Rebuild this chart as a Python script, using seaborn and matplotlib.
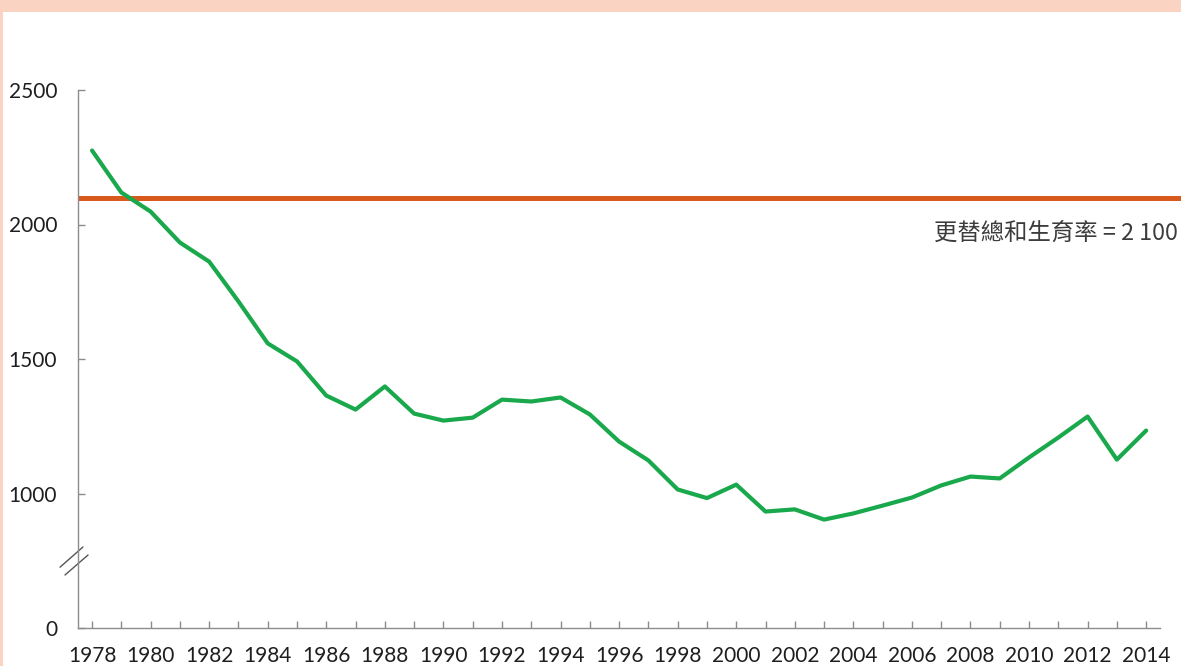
import matplotlib
matplotlib.use("Agg")
import matplotlib.pyplot as plt
import seaborn as sns
import pandas as pd
from matplotlib.patches import Rectangle

# Data
years = list(range(1978, 2015))
fertility = [2275, 2119, 2048, 1933, 1862, 1714, 1558, 1491, 1364, 1312,
             1398, 1297, 1271, 1282, 1349, 1342, 1357, 1294, 1193, 1123,
             1015, 983, 1033, 933, 941, 903, 926, 955, 985, 1030,
             1063, 1056, 1134, 1208, 1286, 1126, 1234]
replacement_rate = 2100
ytick_values = [500, 1000, 1500, 2000, 2500]
ytick_labels = ["0", "1000", "1500", "2000", "2500"]
label_years = list(range(1978, 2015, 2))
annotation = "更替總和生育率 = 2 100"

sns.set_style("white")
plt.rcParams['font.family'] = ['Lato', 'DejaVu Sans']

GREEN = "#1AA84C"
ORANGE = "#D75A1C"
AXIS_GRAY = "#8C8C8C"

df = pd.DataFrame({"year": years, "tfr": fertility})

fig = plt.figure(figsize=(11.81, 6.66), dpi=100)
fig.patch.set_facecolor("#FAD3C3")
fig.patches.append(Rectangle((3 / 1181, 0), 1, 1 - 12 / 666, transform=fig.transFigure,
                             facecolor="white", edgecolor="none", zorder=-10))

ax = fig.add_axes([78 / 1181, 38 / 666, 1103 / 1181, 538 / 666])
ax.set_facecolor("none")

ax.axhline(replacement_rate, color=ORANGE, lw=3.6, zorder=2)
sns.lineplot(data=df, x="year", y="tfr", ax=ax, color=GREEN, lw=3.0, zorder=3)

ax.set_xlim(1977.52, 2015.19)
ax.set_ylim(500, 2500)

ax.set_xticks(years)
ax.set_xticklabels([str(y) if y in label_years else "" for y in years])
ax.set_yticks(ytick_values)
ax.set_yticklabels(ytick_labels)
ax.tick_params(axis="both", direction="in", length=5, width=1, color=AXIS_GRAY,
               labelsize=15, labelcolor="#1E1E1E", bottom=True, left=True)
ax.tick_params(axis="x", pad=13)
ax.tick_params(axis="y", pad=15)
ax.set_xlabel("")
ax.set_ylabel("")

for side in ["top", "right"]:
    ax.spines[side].set_visible(False)
for side in ["left", "bottom"]:
    ax.spines[side].set_color(AXIS_GRAY)
    ax.spines[side].set_linewidth(1)
ax.spines["bottom"].set_bounds(1977.52, 2014.47)

# broken-axis marks
for x0, y0, x1, y1 in [(-0.0163, 0.113, 0.0045, 0.1506), (-0.0118, 0.0985, 0.0091, 0.1357)]:
    ax.plot([x0, x1], [y0, y1], transform=ax.transAxes, color="#555555", lw=1, clip_on=False)

ax.text(0.997, 0.734, annotation, transform=ax.transAxes, ha="right", va="center",
        fontsize=16.8, color="#3C3C3C", family=['Noto Sans CJK TC', 'DejaVu Sans'])

fig.savefig("out.png", dpi=100)
